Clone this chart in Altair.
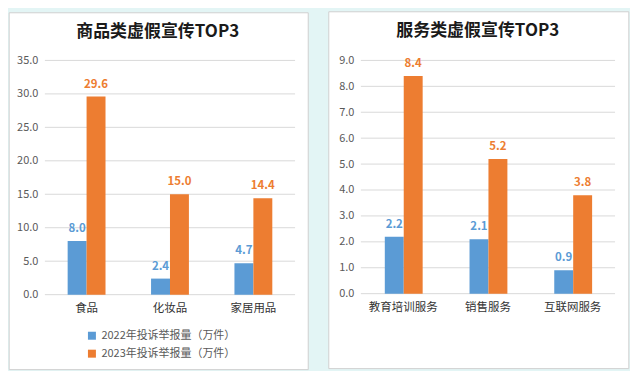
import altair as alt
import pandas as pd

FONT = "Noto Sans CJK SC"

series = ["2022年投诉举报量（万件）", "2023年投诉举报量（万件）"]
series_colors = ["#5b9bd5", "#ed7d31"]

goods_title = "商品类虚假宣传TOP3"
goods_categories = ["食品", "化妆品", "家居用品"]
goods_2022 = [8.0, 2.4, 4.7]
goods_2023 = [29.6, 15.0, 14.4]
goods_ticks = [0, 5, 10, 15, 20, 25, 30, 35]

service_title = "服务类虚假宣传TOP3"
service_categories = ["教育培训服务", "销售服务", "互联网服务"]
service_2022 = [2.2, 2.1, 0.9]
service_2023 = [8.4, 5.2, 3.8]
service_ticks = [0, 1, 2, 3, 4, 5, 6, 7, 8, 9]


def panel(title, cats, v22, v23, ticks, width, height, pad_inner, frame, title_pos, legend_pos):
    df = pd.DataFrame({
        "category": cats * 2,
        "series": [series[0]] * len(cats) + [series[1]] * len(cats),
        "value": v22 + v23,
    })
    yscale = alt.Scale(domain=[0, ticks[-1]], nice=False, zero=True)
    cscale = alt.Scale(domain=series, range=series_colors)
    x = alt.X("category:N", sort=cats,
              scale=alt.Scale(paddingInner=pad_inner, paddingOuter=pad_inner / 2),
              axis=alt.Axis(title=None, labelAngle=0, domain=False, ticks=False,
                            labelPadding=8, labelFontSize=11.5, labelColor="#333333",
                            labelFont=FONT, zindex=1))
    xo = alt.XOffset("series:N", sort=series, scale=alt.Scale(paddingInner=0, paddingOuter=0))
    y = alt.Y("value:Q", scale=yscale,
              axis=alt.Axis(title=None, values=ticks, format=".1f", grid=False, domain=False,
                            ticks=False, labelPadding=7, labelFontSize=11, labelColor="#595959",
                            labelFont=FONT, zindex=1))

    one = pd.DataFrame({"k": [0]})
    bg = alt.Chart(one).mark_rect(fill="white", stroke="#d0d0d0", strokeWidth=1).encode(
        x=alt.value(frame[0]), x2=alt.value(frame[1]),
        y=alt.value(frame[2]), y2=alt.value(frame[3]))

    grid = alt.Chart(pd.DataFrame({"value": ticks})).mark_rule(color="#d9d9d9", strokeWidth=1).encode(
        y=y, x=alt.value(0), x2=alt.value(width))

    bars = alt.Chart(df).mark_bar().encode(
        x=x, xOffset=xo, y=y,
        color=alt.Color("series:N", scale=cscale,
                        legend=alt.Legend(title=None, orient="none", legendX=legend_pos[0],
                                          legendY=legend_pos[1], direction="vertical",
                                          symbolType="square", symbolSize=64, symbolStrokeWidth=0,
                                          labelFont=FONT, labelFontSize=11, labelColor="#595959",
                                          labelOffset=4, rowPadding=6, padding=0, zindex=1)))

    labels = alt.Chart(df).mark_text(font=FONT, fontSize=11.5, fontWeight="bold",
                                     baseline="alphabetic", dy=-9).encode(
        x=x, xOffset=xo, y=y,
        text=alt.Text("value:Q", format=".1f"),
        color=alt.Color("series:N", scale=cscale, legend=None))

    ttl = alt.Chart(one).mark_text(font=FONT, fontSize=17, fontWeight="bold", color="#1a1a1a",
                                   baseline="middle", align="center").encode(
        x=alt.value(title_pos[0]), y=alt.value(title_pos[1]), text=alt.value(title))

    return alt.layer(bg, grid, bars, labels, ttl).properties(width=width, height=height)


left = panel(goods_title, goods_categories, goods_2022, goods_2023, goods_ticks,
             251, 235, 0.546, (-35.8, 264.2, -47.8, 310.2), (113.2, -28.3), (41.7, 270.7))
right = panel(service_title, service_categories, service_2022, service_2023, service_ticks,
              255, 234, 0.565, (-32.2, 268.8, -48.8, 309.2), (117.3, -29.3), (46.3, 269))

chart = alt.hconcat(left, right, spacing=19).properties(
    padding={"left": 0, "top": 2, "right": 0, "bottom": 0},
    background="#e3f5f5",
).configure_view(stroke=None)

chart.save("out.html", embed_options={"renderer": "svg", "actions": False})
